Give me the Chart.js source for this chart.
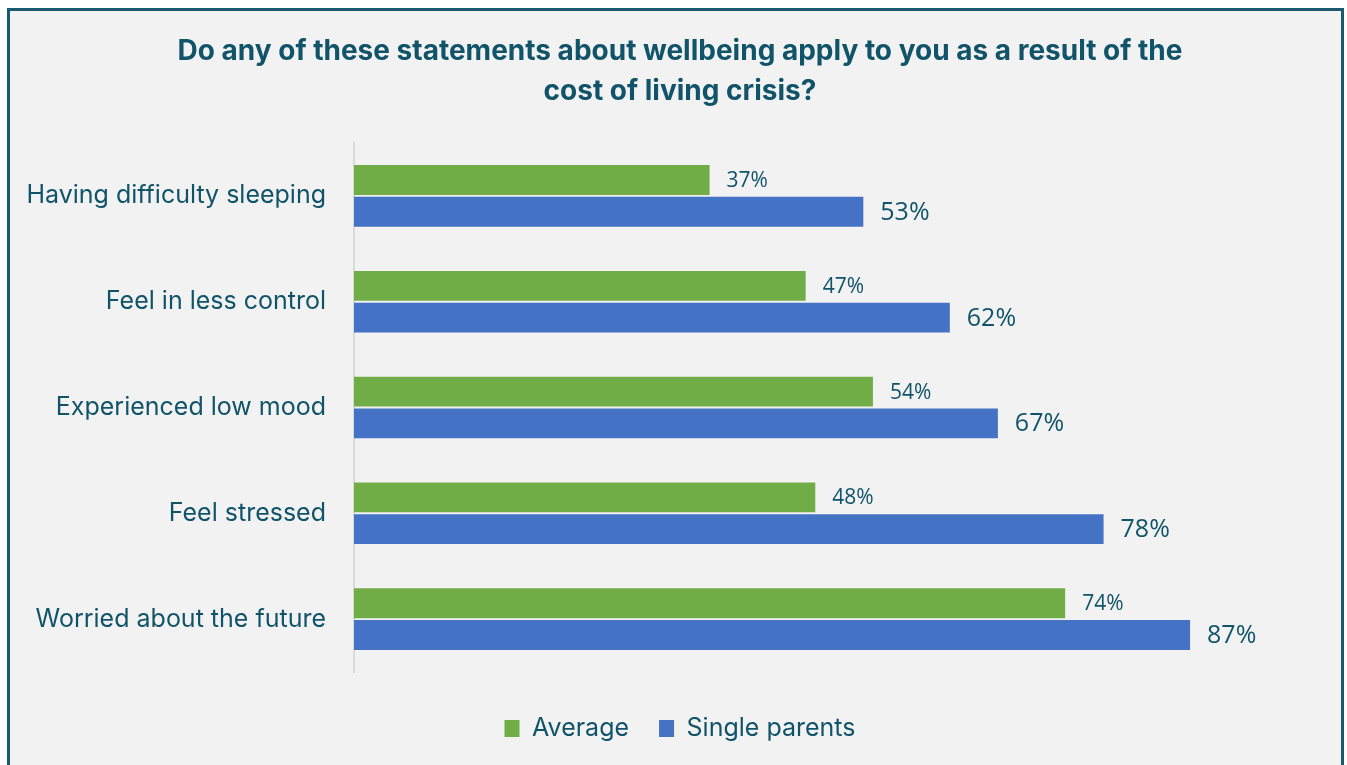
<!DOCTYPE html>
<html>
<head>
<meta charset="utf-8">
<title>Wellbeing and the cost of living crisis</title>
<script src="https://cdn.jsdelivr.net/npm/chart.js@4.4.1/dist/chart.umd.min.js"></script>
<style>
    html, body {
        margin: 0;
        padding: 0;
        background: #ffffff;
        overflow: hidden;
    }
    .frame {
        position: absolute;
        left: 7px;
        top: 8px;
        width: 1331px;
        height: 800px;
        border: 3px solid #1b5a6e;
        background: #f2f2f2;
    }
    #wellbeingChart {
        position: absolute;
        left: 0;
        top: 0;
    }
</style>
</head>
<body>
<div class="frame"></div>
<canvas id="wellbeingChart" width="1347" height="765"></canvas>

<script>
// Survey statements (top to bottom) and the share answering yes
const categories = [
    'Having difficulty sleeping',
    'Feel in less control',
    'Experienced low mood',
    'Feel stressed',
    'Worried about the future'
];
const averageValues = [37, 47, 54, 48, 74];
const singleParentValues = [53, 62, 67, 78, 87];
const seriesNames = ['Average', 'Single parents'];
const titleLines = [
    'Do any of these statements about wellbeing apply to you as a result of the',
    'cost of living crisis?'
];

const TEXT_COLOR = '#11546a';
const GREEN = '#70ad47';
const BLUE = '#4472c4';
const PAD_LEFT = 45;

// Percentage labels at the end of each bar
const valueLabels = {
    id: 'valueLabels',
    afterDatasetsDraw(chart) {
        const ctx = chart.ctx;
        ctx.save();
        ctx.fillStyle = TEXT_COLOR;
        ctx.textAlign = 'left';
        ctx.textBaseline = 'middle';
        chart.data.datasets.forEach((ds, di) => {
            const meta = chart.getDatasetMeta(di);
            ctx.font = (di === 0 ? '21px' : '25px') + ' "Open Sans", sans-serif';
            meta.data.forEach((bar, i) => {
                ctx.fillText(ds.data[i] + '%', bar.x + 17, bar.y + 1);
            });
        });
        ctx.restore();
    }
};

new Chart(document.getElementById('wellbeingChart'), {
    type: 'bar',
    data: {
        labels: categories,
        datasets: [{
            label: seriesNames[0],
            data: averageValues,
            backgroundColor: GREEN,
            categoryPercentage: 0.6,
            barPercentage: 0.94
        }, {
            label: seriesNames[1],
            data: singleParentValues,
            backgroundColor: BLUE,
            categoryPercentage: 0.6,
            barPercentage: 0.94
        }]
    },
    options: {
        indexAxis: 'y',
        responsive: false,
        animation: false,
        layout: {
            padding: { left: PAD_LEFT, right: 32, top: 0, bottom: 14 }
        },
        plugins: {
            title: {
                display: true,
                text: titleLines,
                color: TEXT_COLOR,
                font: { family: 'Inter, sans-serif', size: 28, weight: 'bold', lineHeight: '40px' },
                padding: { top: 32, bottom: 31 }
            },
            legend: {
                position: 'bottom',
                labels: {
                    color: TEXT_COLOR,
                    font: { family: 'Inter, sans-serif', size: 25 },
                    boxWidth: 15,
                    boxHeight: 17,
                    padding: 30
                }
            },
            tooltip: { enabled: false }
        },
        scales: {
            x: {
                min: 0,
                max: 100,
                grid: { display: false },
                border: { display: false },
                ticks: { display: false },
                // empty strip between the bars and the legend
                afterFit(scale) {
                    scale.height = 14;
                }
            },
            y: {
                grid: { display: false },
                border: { display: true, color: '#d9d9d9', width: 2 },
                ticks: {
                    color: TEXT_COLOR,
                    font: { family: 'Inter, sans-serif', size: 25 },
                    padding: 20
                },
                afterFit(scale) {
                    scale.width = 354 - PAD_LEFT;
                    // long labels may run into the left padding, so don't clip them
                    scale._computeLabelArea = () => null;
                }
            }
        }
    },
    plugins: [valueLabels]
});
</script>
</body>
</html>
